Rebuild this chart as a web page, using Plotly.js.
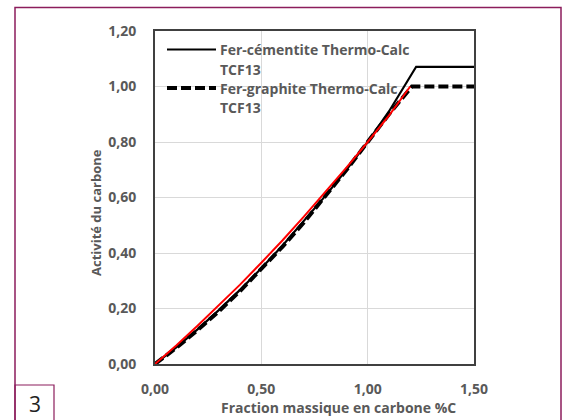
<!DOCTYPE html>
<html>
<head>
<meta charset="utf-8">
<script src="https://cdn.plot.ly/plotly-3.0.1.min.js"></script>
<style>html,body{margin:0;padding:0;background:#fff;}#chart{width:565px;height:420px;}</style>
</head>
<body>
<div id="chart"></div>
<script>
// Fer-cémentite Thermo-Calc TCF13 (solid black)
const cemX = [0, 0.1, 0.2, 0.3, 0.4, 0.5, 0.6, 0.7, 0.8, 0.9, 1.0, 1.1, 1.228, 1.5];
const cemY = [0, 0.060, 0.125, 0.194, 0.267, 0.345, 0.427, 0.514, 0.605, 0.700, 0.800, 0.910, 1.071, 1.071];
// Fer-graphite Thermo-Calc TCF13 (dashed black)
const graX = [0, 0.1, 0.2, 0.3, 0.4, 0.5, 0.6, 0.7, 0.8, 0.9, 1.0, 1.1, 1.208, 1.5];
const graY = [0, 0.058, 0.122, 0.190, 0.263, 0.341, 0.423, 0.510, 0.602, 0.699, 0.800, 0.900, 1.000, 1.000];
// Modèle (red)
const modX = [0, 0.1, 0.2, 0.3, 0.4, 0.5, 0.6, 0.7, 0.8, 0.9, 1.0, 1.1, 1.2];
const modY = [0, 0.067, 0.138, 0.211, 0.286, 0.365, 0.446, 0.531, 0.618, 0.708, 0.800, 0.895, 1.000];

const legendNames = ["Fer-cémentite Thermo-Calc", "Fer-graphite Thermo-Calc"];
const legendSub = "TCF13";
const xTitle = "Fraction massique en carbone %C";
const yTitle = "Activité du carbone";
const figLabel = "3";

const W = 565, H = 420;
const mL = 155, mR = 91, mT = 31, mB = 56;
const pw = W - mL - mR, ph = H - mT - mB;
const px = v => (v - mL) / pw;          // pixel x -> paper
const py = v => (H - mB - v) / ph;      // pixel y -> paper

const gray = '#595959';
const frameCol = '#8c1d5c';
const fontFam = '"Open Sans", "DejaVu Sans", sans-serif';

const traces = [
  {x: cemX, y: cemY, mode: 'lines', name: legendNames[0] + ' ' + legendSub,
   line: {color: '#000000', width: 2.2}, showlegend: false, hoverinfo: 'skip'},
  {x: graX, y: graY, mode: 'lines', name: legendNames[1] + ' ' + legendSub,
   line: {color: '#000000', width: 4, dash: '10px,4px'}, showlegend: false, hoverinfo: 'skip'},
  {x: modX, y: modY, mode: 'lines', name: 'modèle',
   line: {color: '#ff0000', width: 2}, showlegend: false, hoverinfo: 'skip'}
];

const tickFont = {family: fontFam, size: 14, color: gray, weight: 'bold'};
const txtFont = {family: fontFam, size: 14, color: gray, weight: 'bold'};

const layout = {
  width: W, height: H,
  margin: {l: mL, r: mR, t: mT, b: mB, pad: 0},
  paper_bgcolor: '#ffffff', plot_bgcolor: '#ffffff',
  separators: ', ',
  showlegend: false,
  xaxis: {
    range: [0, 1.5], dtick: 0.5, tick0: 0, tickformat: '.2f',
    showgrid: true, gridcolor: '#d9d9d9', gridwidth: 1,
    showline: true, mirror: true, linecolor: '#404040', linewidth: 2,
    zeroline: false, ticks: '', ticklabelstandoff: 11,
    tickfont: tickFont, fixedrange: true
  },
  yaxis: {
    range: [0, 1.2], dtick: 0.2, tick0: 0, tickformat: '.2f',
    showgrid: true, gridcolor: '#d9d9d9', gridwidth: 1,
    showline: true, mirror: true, linecolor: '#404040', linewidth: 2,
    zeroline: false, ticks: '', ticklabelstandoff: 14,
    tickfont: tickFont, fixedrange: true
  },
  shapes: [
    {type: 'rect', xref: 'paper', yref: 'paper', x0: px(15), x1: px(561), y0: py(425), y1: py(7.5),
     line: {color: frameCol, width: 1.5}, fillcolor: 'rgba(0,0,0,0)', layer: 'below'},
    {type: 'rect', xref: 'paper', yref: 'paper', x0: px(15), x1: px(54), y0: py(425), y1: py(385),
     line: {color: frameCol, width: 1.2}, fillcolor: 'rgba(0,0,0,0)', layer: 'below'},
    {type: 'line', xref: 'paper', yref: 'paper', x0: px(167), x1: px(216), y0: py(49.5), y1: py(49.5),
     line: {color: '#000000', width: 2.2}},
    {type: 'line', xref: 'paper', yref: 'paper', x0: px(167), x1: px(216), y0: py(88), y1: py(88),
     line: {color: '#000000', width: 4, dash: '10px,4px'}}
  ],
  annotations: [
    {xref: 'paper', yref: 'paper', x: px(218), y: py(49.5), xanchor: 'left', yanchor: 'middle',
     text: legendNames[0], showarrow: false, font: txtFont},
    {xref: 'paper', yref: 'paper', x: px(218), y: py(69.5), xanchor: 'left', yanchor: 'middle',
     text: legendSub, showarrow: false, font: txtFont},
    {xref: 'paper', yref: 'paper', x: px(218), y: py(88), xanchor: 'left', yanchor: 'middle',
     text: legendNames[1], showarrow: false, font: txtFont},
    {xref: 'paper', yref: 'paper', x: px(218), y: py(107.5), xanchor: 'left', yanchor: 'middle',
     text: legendSub, showarrow: false, font: txtFont},
    {xref: 'paper', yref: 'paper', x: px(338), y: py(408), xanchor: 'center', yanchor: 'middle',
     text: xTitle, showarrow: false, font: txtFont},
    {xref: 'paper', yref: 'paper', x: px(96), y: py(213), xanchor: 'center', yanchor: 'middle',
     text: yTitle, textangle: -90, showarrow: false, font: {family: fontFam, size: 13, color: gray, weight: 'bold'}},
    {xref: 'paper', yref: 'paper', x: px(34.5), y: py(404), xanchor: 'center', yanchor: 'middle',
     text: figLabel, showarrow: false, font: {family: fontFam, size: 21, color: '#222222'}}
  ]
};

Plotly.newPlot('chart', traces, layout, {staticPlot: true, displayModeBar: false});
</script>
</body>
</html>
